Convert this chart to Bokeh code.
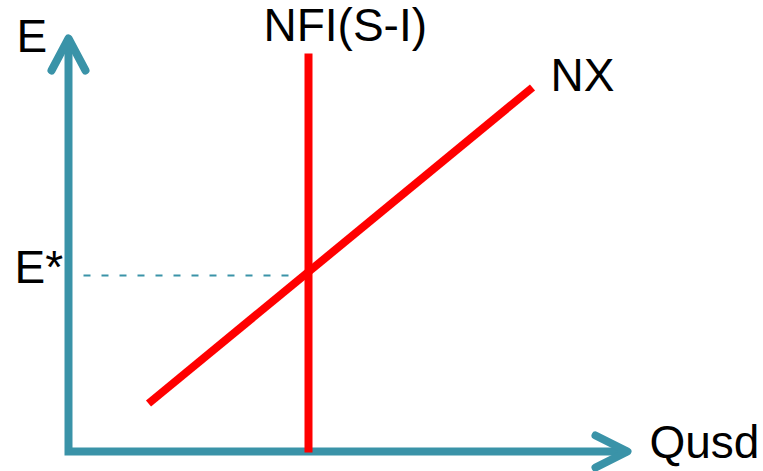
from bokeh.plotting import figure
from bokeh.models import Range1d
from bokeh.embed import file_html
from bokeh.resources import INLINE
from bokeh.core.properties import value

# Schematic data (units: chart units, origin at axes corner)
axis_path_x = [0, 0, 559]
axis_path_y = [408, 0, 0]
y_arrow_x = [-17, 0, 17]
y_arrow_y = [381, 413, 381]
x_arrow_x = [527, 559, 527]
x_arrow_y = [16, 0, -16]

nfi_x = [240, 240]
nfi_y = [-1, 398]

nx_x = [80, 464]
nx_y = [48, 364]

e_star = 176
dash_x = [15, 240]

labels = ["E", "E*", "NFI(S-I)", "NX", "Qusd"]
label_x = [-52, -54, 195, 482, 581]
label_y = [416, 185, 427, 377, 10]

TEAL = "#3A93A8"
RED = "#FF0000"

p = figure(width=763, height=471, output_backend="svg", toolbar_location=None,
           x_range=Range1d(-68, 695), y_range=Range1d(-20, 451),
           min_border=0, min_border_left=0, min_border_right=0,
           min_border_top=0, min_border_bottom=0)
p.xaxis.visible = False
p.yaxis.visible = False
p.grid.visible = False
p.outline_line_color = None
p.background_fill_color = "white"
p.border_fill_color = "white"

# dashed guide
p.line(dash_x, [e_star, e_star], line_color=TEAL, line_width=2, line_dash="7 11")

# axes
p.line(axis_path_x, axis_path_y, line_color=TEAL, line_width=8, line_join="miter")
p.line(y_arrow_x, y_arrow_y, line_color=TEAL, line_width=8, line_cap="round", line_join="round")
p.line(x_arrow_x, x_arrow_y, line_color=TEAL, line_width=8, line_cap="round", line_join="round")

# curves
p.line(nfi_x, nfi_y, line_color=RED, line_width=8)
p.line(nx_x, nx_y, line_color=RED, line_width=8)

p.text(x=label_x, y=label_y, text=labels, text_font=value("Liberation Sans"),
       text_font_size="46px", text_color="black", text_baseline="alphabetic",
       text_align="left")

open("out.html", "w").write(file_html(p, INLINE))
